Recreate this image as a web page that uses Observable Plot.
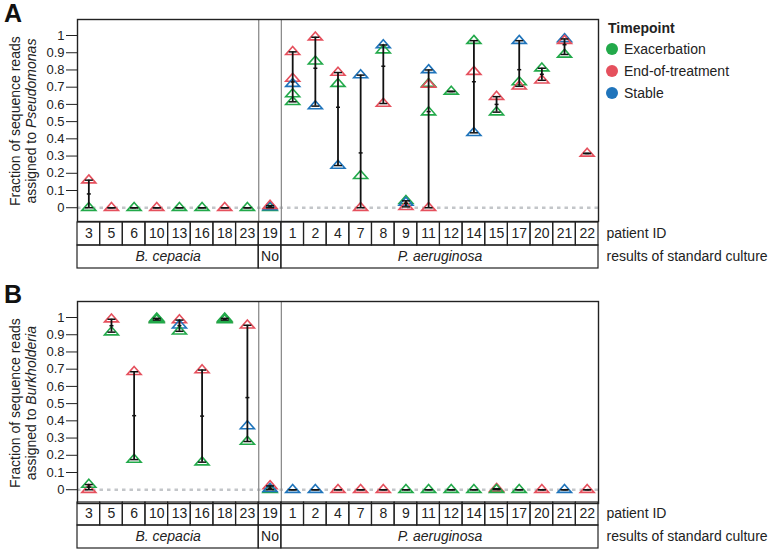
<!DOCTYPE html>
<html><head><meta charset="utf-8">
<script src="https://cdn.jsdelivr.net/npm/d3@7"></script>
<script src="https://cdn.jsdelivr.net/npm/@observablehq/plot@0.6"></script>
<style>
body{margin:0;background:#fff;font-family:"Liberation Sans",Arial,sans-serif;color:#222;}
#root{position:relative;width:774px;height:552px;overflow:hidden;background:#fff;}
#root > *{position:absolute;}
</style></head><body><div id="root"></div>
<script>
// ---------- data ----------
const patientIds = ["3","5","6","10","13","16","18","23","19","1","2","4","7","8","9","11","12","14","15","17","20","21","22"];
const cultureGroups = ["B. cepacia","No","P. aeruginosa"];
const cultureCounts = [8,1,14];
const timepoints = ["Exacerbation","End-of-treatment","Stable"];
const timepointCodes = ["E","T","S"];
const timepointColors = ["#22a94a","#e5505d","#1f74bb"];
const yTicks = [0,0.1,0.2,0.3,0.4,0.5,0.6,0.7,0.8,0.9,1];
const tableRows = ["patient ID","results of standard culture"];

// Panel A: fraction assigned to Pseudomonas
const pseudoPatient = ["3","3","5","6","10","13","16","18","23","19","19","19",
  "1","1","1","1","1","2","2","2","4","4","4","7","7","7","8","8","8","9","9","9",
  "11","11","11","11","11","12","14","14","14","15","15","17","17","17","20","20","21","21","21","22"];
const pseudoTime = ["E","T","T","E","T","E","E","T","E","E","S","T",
  "T","T","S","E","E","T","E","S","T","E","S","S","E","T","S","E","T","E","S","T",
  "S","E","T","E","T","E","E","T","S","T","E","S","E","T","E","T","S","T","E","T"];
const pseudoValue = [0,0.16,0,0,0,0,0,0,0,0,0.004,0.012,
  0.905,0.75,0.72,0.66,0.615,0.99,0.85,0.59,0.785,0.72,0.245,0.77,0.185,0,0.945,0.915,0.605,0.04,0.03,0.005,
  0.8,0.72,0.715,0.555,0,0.675,0.97,0.79,0.435,0.645,0.555,0.97,0.73,0.705,0.81,0.74,0.98,0.97,0.89,0.315];

// Panel B: fraction assigned to Burkholderia
const burkPatient = ["3","3","5","5","6","6","10","10","10","10","13","13","13","16","16","18","18","18","18","23","23","23","19","19","19",
  "1","2","4","7","8","9","11","12","14","15","15","17","20","21","22"];
const burkTime = ["T","E","T","E","T","E","T","E","E","E","T","S","E","T","E","T","E","E","E","T","S","E","T","E","S",
  "S","S","T","T","T","E","E","E","E","T","E","E","T","S","T"];
const burkValue = [0,0.03,0.99,0.915,0.685,0.175,0.99,0.985,0.995,0.99,0.985,0.955,0.92,0.695,0.16,0.99,0.985,0.995,0.99,0.955,0.37,0.28,0.022,0,0.005,
  0,0,0,0,0,0,0,0,0,0.006,0,0,0,0,0];

// ---------- helpers ----------
const FONT = "Liberation Sans, Arial, sans-serif";
const codeToName = new Map(timepointCodes.map((c,i)=>[c,timepoints[i]]));
function makeSamples(pat, tim, val){
  return pat.map((p,i)=>({patient:p, timepoint:codeToName.get(tim[i]), value:val[i]}));
}
const triangleSymbol = {draw(ctx, size){
  const r = Math.sqrt(size/Math.PI);
  ctx.moveTo(0,-1.33*r); ctx.lineTo(1.75*r,0.67*r); ctx.lineTo(-1.75*r,0.67*r); ctx.closePath();
}};
const capSymbol = {draw(ctx, size){
  const r = Math.sqrt(size/Math.PI);
  ctx.moveTo(-r,0); ctx.lineTo(r,0);
}};
const idx = new Map(patientIds.map((p,i)=>[p,i]));
const xOf = d => idx.get(d.patient) + 0.5;
const n = patientIds.length;

function mainPlot(samples, genus){
  const summary = d3.rollups(samples, v=>({min:d3.min(v,d=>d.value), max:d3.max(v,d=>d.value), mean:d3.mean(v,d=>d.value)}), d=>d.patient)
    .map(([patient,s])=>({patient,...s}));
  const boundaries = Array.from(d3.cumsum(cultureCounts)).slice(0,-1);
  const plot = Plot.plot({
    width:774, height:221, marginTop:19, marginBottom:0, marginLeft:77, marginRight:176,
    style:{fontFamily:FONT, fontSize:"13px", color:"#222", background:"transparent", overflow:"visible"},
    x:{domain:[0,n], axis:null},
    y:{domain:[-0.08,1.093], ticks:yTicks, tickFormat:d=>String(d), tickSize:11, tickPadding:2, label:null},
    color:{domain:timepoints, range:timepointColors},
    marks:[
      Plot.ruleY([0], {stroke:"#c3c6c9", strokeWidth:2.6, strokeDasharray:"3.5,4"}),
      Plot.ruleX(boundaries, {stroke:"#8c8c8c", strokeWidth:1.3}),
      Plot.dot(samples, {x:xOf, y:"value", stroke:"timepoint", symbol:triangleSymbol, r:4, strokeWidth:1.6, fill:"none"}),
      Plot.ruleX(summary, {x:xOf, y1:"min", y2:"max", stroke:"#111", strokeWidth:1.8}),
      Plot.dot(summary, {x:xOf, y:"min", symbol:capSymbol, r:4, stroke:"#111", strokeWidth:1.5, fill:"none"}),
      Plot.dot(summary, {x:xOf, y:"max", symbol:capSymbol, r:4, stroke:"#111", strokeWidth:1.5, fill:"none"}),
      Plot.dot(summary, {x:xOf, y:"mean", symbol:capSymbol, r:2, stroke:"#111", strokeWidth:1.5, fill:"none"}),
      Plot.frame({stroke:"#222", strokeWidth:1.4})
    ]
  });
  const cy = plot.scale("y").apply(0.5);
  const svg = d3.select(plot);
  svg.append("text").attr("transform",`translate(20,${cy}) rotate(-90)`).attr("text-anchor","middle")
    .attr("font-size",14).attr("fill","#222").text("Fraction of sequence reads");
  const t2 = svg.append("text").attr("transform",`translate(36,${cy}) rotate(-90)`).attr("text-anchor","middle")
    .attr("font-size",14).attr("fill","#222");
  t2.append("tspan").text("assigned to ");
  t2.append("tspan").attr("font-style","italic").text(genus);
  return plot;
}

function tablePlot(){
  const cells = patientIds.map((p,i)=>({p, x1:i, x2:i+1}));
  const ends = Array.from(d3.cumsum(cultureCounts));
  const groups = cultureGroups.map((g,i)=>({g, x1:ends[i]-cultureCounts[i], x2:ends[i]}));
  const species = groups.filter(d=>d.g.includes("."));
  const other = groups.filter(d=>!d.g.includes("."));
  const r0 = ()=>tableRows[0], r1 = ()=>tableRows[1];
  return Plot.plot({
    width:774, height:48, marginTop:0, marginBottom:1, marginLeft:77, marginRight:176,
    style:{fontFamily:FONT, fontSize:"14px", color:"#222", background:"transparent", overflow:"visible"},
    x:{domain:[0,n], axis:null},
    y:{domain:tableRows, type:"band", padding:0, axis:null},
    marks:[
      Plot.barX(cells, {x1:"x1", x2:"x2", y:r0, fill:"none", stroke:"#222", strokeWidth:1.2}),
      Plot.text(cells, {x:d=>(d.x1+d.x2)/2, y:r0, text:"p", fill:"#222"}),
      Plot.barX(groups, {x1:"x1", x2:"x2", y:r1, fill:"none", stroke:"#222", strokeWidth:1.2}),
      Plot.text(species, {x:d=>(d.x1+d.x2)/2, y:r1, text:"g", fontStyle:"italic", fill:"#222"}),
      Plot.text(other, {x:d=>(d.x1+d.x2)/2, y:r1, text:"g", fill:"#222"}),
      Plot.text(tableRows, {x:n, y:d=>d, text:d=>d, textAnchor:"start", dx:8, fill:"#222"})
    ]
  });
}

const root = d3.select("#root");
function place(node, top){ node.style.left = "0px"; node.style.top = top+"px"; root.node().appendChild(node); }

place(mainPlot(makeSamples(pseudoPatient,pseudoTime,pseudoValue), "Pseudomonas"), 0);
place(tablePlot(), 221);
place(mainPlot(makeSamples(burkPatient,burkTime,burkValue), "Burkholderia"), 282);
place(tablePlot(), 501);

// panel letters
[["A",1],["B",282]].forEach(([t,top])=>{
  root.append("div").style("left","4px").style("top",top+"px").style("font-size","25px")
    .style("font-weight","bold").style("line-height","25px").style("color","#111").text(t);
});

// legend
root.append("div").style("left","608px").style("top","20px").style("font-size","14px")
  .style("font-weight","bold").style("line-height","16px").text("Timepoint");
timepoints.forEach((t,i)=>{
  const cy = 49 + i*22;
  root.append("div").style("left","606px").style("top",(cy-6)+"px").style("width","12px").style("height","12px")
    .style("border-radius","50%").style("background",timepointColors[i]);
  root.append("div").style("left","624px").style("top",(cy-8)+"px").style("font-size","14px")
    .style("line-height","16px").text(t);
});
</script></body></html>
